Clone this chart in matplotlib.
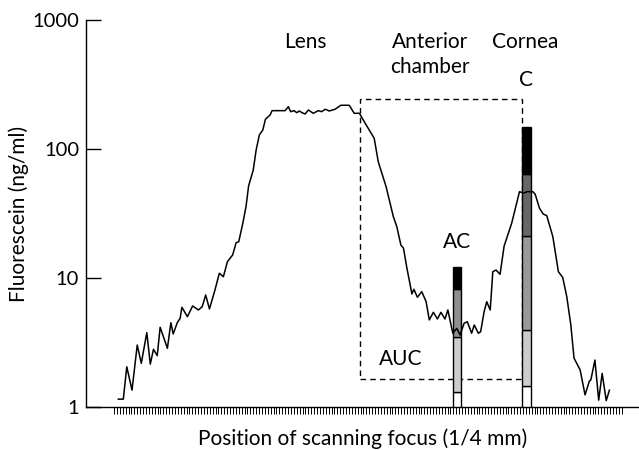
import matplotlib
matplotlib.use("Agg")
import matplotlib.pyplot as plt
from matplotlib.patches import Rectangle

plt.rcParams["font.family"] = ["Lato", "DejaVu Sans"]

# scan position (1/4 mm steps) vs fluorescein concentration (ng/ml)
scan_pos = [
    1.5, 3.2, 4.4, 6.2, 8.0, 9.4, 11.3, 12.5, 13.6, 14.9, 15.9, 18.4, 19.6, 20.4,
    21.8, 22.8, 23.4, 25.3, 27.1, 29.1, 30.4, 31.6, 32.9, 34.8, 36.3, 37.7, 39.1,
    40.9, 42.1, 43.0, 44.4, 45.5, 46.4, 48.0, 49.0, 50.1, 51.3, 52.2, 53.8, 54.5,
    59.0, 60.1, 60.9, 62.1, 63.0, 63.9, 64.8, 65.9, 67.0, 68.7, 70.4, 71.6, 72.8,
    74.2, 76.2, 78.2, 81.1, 82.8, 84.6, 86.6, 89.7, 91.1, 93.8, 96.3, 97.5, 98.9,
    99.8, 100.9, 102.7, 103.4, 104.6, 106.1, 107.6, 108.7, 110.1, 111.5, 112.7,
    114.1, 115.1, 116.8, 118.2, 119.3, 120.7, 121.8, 123.3, 124.2, 125.6, 126.4,
    127.6, 128.5, 129.7, 130.6, 131.7, 133.1, 134.5, 137.1, 139.8, 141.1, 142.5,
    144.4, 145.2, 146.7, 148.0, 149.2, 151.3, 153.2, 154.7, 156.1, 157.5, 158.6,
    160.7, 162.4, 163.9, 164.4, 165.8, 167.1, 168.3, 169.7, 170.8,
]
fluorescein = [
    1.15, 1.15, 2.05, 1.35, 3.02, 2.18, 3.77, 2.15, 2.80, 2.50, 4.15, 2.85, 4.50,
    3.68, 4.50, 4.87, 5.93, 5.01, 6.07, 5.65, 5.99, 7.38, 5.75, 8.07, 10.87, 10.23,
    13.38, 15.08, 18.77, 19.11, 26.55, 35.7, 51.7, 68.7, 98.2, 128.4, 140.4, 169.9,
    183.5, 198.2, 198.2, 212.8, 194.6, 198.2, 191.2, 197.1, 191.2, 186.8, 200.6,
    189.1, 198.2, 194.6, 203.2, 197.1, 203.2, 218.2, 218.2, 189.1, 189.1, 158.2,
    121.1, 79.7, 51.0, 29.9, 25.0, 18.0, 17.0, 12.2, 7.52, 8.17, 7.09, 7.83, 6.55,
    4.73, 5.42, 4.81, 5.42, 4.81, 5.65, 3.73, 4.07, 3.61, 4.46, 4.58, 3.73, 4.32,
    3.73, 3.83, 5.48, 6.55, 5.65, 11.19, 11.53, 10.68, 17.7, 26.55, 46.7, 45.4,
    46.7, 46.7, 44.6, 34.7, 31.3, 30.4, 20.9, 11.19, 10.1, 7.16, 4.32, 2.39, 1.94,
    1.24, 1.59, 1.62, 2.31, 1.13, 1.82, 1.12, 1.35,
]

# stacked bars: anterior chamber (AC) and cornea (C)
ac_pos = 118.3
ac_levels = [1, 1.31, 3.5, 8.2, 12.2]
ac_colors = ["white", "#cccccc", "#8f8f8f", "black"]
c_pos = 142.1
c_levels = [1, 1.45, 3.95, 21.2, 64, 149]
c_colors = ["white", "#cccccc", "#999999", "#666666", "black"]
bar_width = 3.0

# area-under-curve box
auc_x = (84.8, 140.6)
auc_y = (1.64, 243)

n_ticks = 176

fig = plt.figure(figsize=(6.39, 4.5), dpi=100)
ax = fig.add_axes([0.1346, 0.0956, 0.8654, 0.86])

ax.plot(scan_pos, fluorescein, color="black", linewidth=1.1, zorder=4)

for pos, levels, colors in [(ac_pos, ac_levels, ac_colors), (c_pos, c_levels, c_colors)]:
    for lo, hi, col in zip(levels[:-1], levels[1:], colors):
        ax.bar(pos, hi - lo, bottom=lo, width=bar_width, color=col,
               edgecolor="black", linewidth=1.0, zorder=3)

ax.add_patch(Rectangle((auc_x[0], auc_y[0]), auc_x[1] - auc_x[0], auc_y[1] - auc_y[0],
                       fill=False, linestyle=(0, (4, 3)), linewidth=1.0,
                       edgecolor="black", zorder=2))

ax.set_yscale("log")
ax.set_ylim(1, 1000)
ax.set_xlim(-9.66, 181)
ax.set_yticks([1, 10, 100, 1000])
ax.set_yticklabels(["1", "10", "100", "1000"])
ax.minorticks_off()
ax.set_xticks(range(n_ticks))
ax.set_xticklabels([])

ax.tick_params(axis="y", direction="in", length=11, width=1.0, pad=5, labelsize=14.5)
ax.tick_params(axis="x", direction="out", length=5, width=0.7)

for side in ["top", "right"]:
    ax.spines[side].set_visible(False)
for side in ["left", "bottom"]:
    ax.spines[side].set_linewidth(1.0)

ax.set_ylabel("Fluorescein (ng/ml)", fontsize=15, labelpad=2)
ax.set_xlabel("Position of scanning focus (1/4 mm)", fontsize=15, labelpad=7)

txt = dict(ha="center", va="center", fontsize=15)
ax.text(65.9, 675, "Lens", **txt)
ax.text(109.0, 540, "Anterior\nchamber", linespacing=1.3, **txt)
ax.text(141.9, 680, "Cornea", **txt)
ax.text(142.1, 340, "C", **txt)
ax.text(118.3, 12.2 * 1.55, "AC", **txt)
ax.text(99.0, 2.35, "AUC", **txt)

fig.savefig("out.png", dpi=100)
